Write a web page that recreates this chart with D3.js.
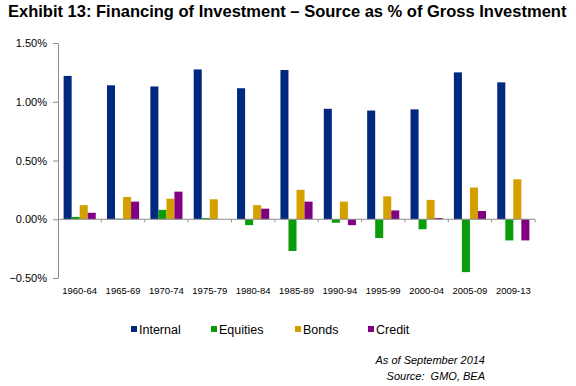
<!DOCTYPE html>
<meta charset="utf-8">
<style>
  body { margin: 0; background: #fff; }
  text { font-family: Arial, "Liberation Sans", sans-serif; fill: #000; }
  .axis path, .axis line { stroke: #8c8c8c; }
</style>
<svg width="576" height="386"></svg>
<script src="https://cdnjs.cloudflare.com/ajax/libs/d3/7.8.5/d3.min.js"></script>
<script>
  var periods = ["1960-64", "1965-69", "1970-74", "1975-79", "1980-84", "1985-89",
                 "1990-94", "1995-99", "2000-04", "2005-09", "2009-13"];
  var seriesNames = ["Internal", "Equities", "Bonds", "Credit"];
  var internal = [1.22, 1.14, 1.13, 1.275, 1.115, 1.27, 0.94, 0.925, 0.935, 1.25, 1.165];
  var equities = [0.02, 0.005, 0.08, 0.01, -0.05, -0.27, -0.03, -0.16, -0.085, -0.45, -0.18];
  var bonds = [0.12, 0.19, 0.175, 0.17, 0.12, 0.25, 0.15, 0.195, 0.165, 0.27, 0.34];
  var credit = [0.055, 0.15, 0.235, 0, 0.09, 0.15, -0.05, 0.075, 0.01, 0.07, -0.18];
  var yTicks = [-0.5, 0, 0.5, 1.0, 1.5];
  var colors = ["#00287e", "#0a9c0a", "#d4a000", "#80007f"];

  var svg = d3.select("svg");
  var plotLeft = 58, plotRight = 535, plotTop = 43, plotBottom = 278;

  var x = d3.scaleBand().domain(periods).range([plotLeft, plotRight]).paddingInner(0).paddingOuter(0);
  var xs = d3.scaleBand().domain(seriesNames).range([0, x.bandwidth()]).paddingOuter(0.7);
  var y = d3.scaleLinear().domain([-0.5, 1.5]).range([plotBottom, plotTop]);

  var allSeries = [internal, equities, bonds, credit];

  // title
  svg.append("text")
    .attr("x", 8).attr("y", 17)
    .style("font-size", "16.5px").style("font-weight", "bold")
    .text("Exhibit 13: Financing of Investment \u2013 Source as % of Gross Investment");

  // y axis
  var yAxis = svg.append("g").attr("class", "axis")
    .attr("transform", "translate(" + plotLeft + ",0)")
    .call(d3.axisLeft(y).tickValues(yTicks).tickSize(5).tickSizeOuter(0)
      .tickFormat(function(d) { return d3.format(".2f")(d) + "%"; }));
  yAxis.selectAll("text").style("font-size", "11px").attr("x", -11);

  // bars
  var groups = svg.append("g").selectAll("g")
    .data(periods).enter().append("g")
    .attr("transform", function(d) { return "translate(" + x(d) + ",0)"; });

  groups.selectAll("rect")
    .data(function(d, i) {
      return allSeries.map(function(s, k) { return { name: seriesNames[k], value: s[i], k: k }; });
    })
    .enter().append("rect")
    .attr("x", function(d) { return xs(d.name); })
    .attr("width", xs.bandwidth())
    .attr("y", function(d) { return y(Math.max(0, d.value)); })
    .attr("height", function(d) { return Math.abs(y(d.value) - y(0)); })
    .attr("fill", function(d) { return colors[d.k]; });

  // x axis through zero
  var xAxis = svg.append("g").attr("class", "axis")
    .attr("transform", "translate(0," + y(0) + ")");
  xAxis.append("line").attr("x1", plotLeft).attr("x2", plotRight).attr("y1", 0).attr("y2", 0);
  xAxis.selectAll(".tk")
    .data(periods).enter().append("line")
    .attr("x1", function(d) { return x(d) + x.bandwidth(); })
    .attr("x2", function(d) { return x(d) + x.bandwidth(); })
    .attr("y1", 0).attr("y2", 3);

  // category labels
  svg.append("g").selectAll("text")
    .data(periods).enter().append("text")
    .attr("x", function(d) { return x(d) + x.bandwidth() / 2; })
    .attr("y", 294)
    .attr("text-anchor", "middle")
    .style("font-size", "9.5px")
    .text(function(d) { return d; });

  // legend
  var legX = [131, 211, 295, 368];
  var leg = svg.append("g").selectAll("g")
    .data(seriesNames).enter().append("g")
    .attr("transform", function(d, i) { return "translate(" + legX[i] + ",329)"; });
  leg.append("rect").attr("x", 0).attr("y", -3).attr("width", 6).attr("height", 6)
    .attr("fill", function(d, i) { return colors[i]; });
  leg.append("text").attr("x", 8).attr("y", 4.5)
    .style("font-size", "12.5px")
    .text(function(d) { return d; });

  // footnote
  svg.append("text").attr("x", 485).attr("y", 364).attr("text-anchor", "end")
    .style("font-size", "11px").style("font-style", "italic")
    .text("As of September 2014");
  svg.append("text").attr("x", 485).attr("y", 380).attr("text-anchor", "end")
    .style("font-size", "11px").style("font-style", "italic")
    .style("white-space", "pre")
    .text("Source:  GMO, BEA");
</script>
